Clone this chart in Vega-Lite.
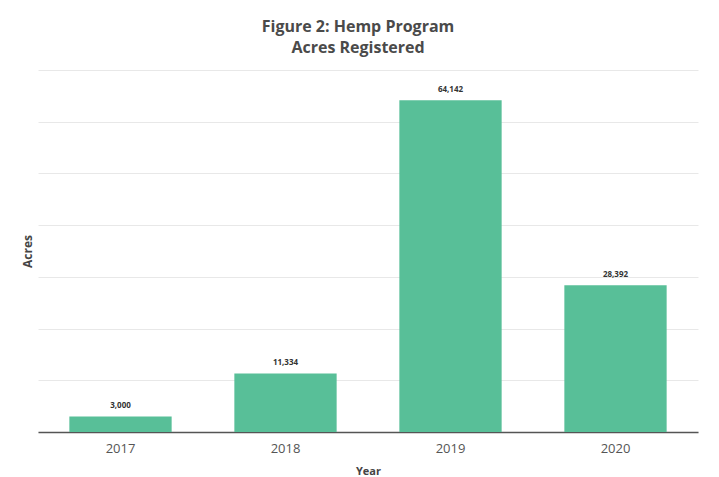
{
  "$schema": "https://vega.github.io/schema/vega-lite/v6.json",
  "autosize": {"type": "none"},
  "width": 660,
  "height": 362,
  "padding": {"left": 38, "top": 70, "right": 21, "bottom": 45},
  "background": "#ffffff",
  "title": {
    "text": ["Figure 2:  Hemp Program", "Acres Registered"],
    "font": "Open Sans",
    "fontSize": 16,
    "fontWeight": "bold",
    "color": "#4a4a4a",
    "anchor": "middle",
    "dx": -10,
    "offset": 14,
    "lineHeight": 21
  },
  "data": {
    "values": [
      {"Year": "2017", "Acres": 3000, "Label": "3,000"},
      {"Year": "2018", "Acres": 11334, "Label": "11,334"},
      {"Year": "2019", "Acres": 64142, "Label": "64,142"},
      {"Year": "2020", "Acres": 28392, "Label": "28,392"}
    ]
  },
  "encoding": {
    "x": {
      "field": "Year",
      "type": "nominal",
      "scale": {"paddingInner": 0.38, "paddingOuter": 0.19},
      "axis": {
        "title": "Year",
        "labelAngle": 0,
        "labelFont": "Open Sans",
        "labelFontSize": 13,
        "labelColor": "#555555",
        "labelPadding": 10,
        "ticks": false,
        "domainColor": "#555555",
        "domainWidth": 1.5,
        "titleFont": "Open Sans",
        "titleFontSize": 11,
        "titleFontWeight": "bold",
        "titleColor": "#444444",
        "titlePadding": 10
      }
    },
    "y": {
      "field": "Acres",
      "type": "quantitative",
      "scale": {"domain": [0, 70000], "nice": false},
      "axis": {
        "title": "Acres",
        "labels": false,
        "labelOverlap": false,
        "ticks": false,
        "domain": false,
        "values": [0, 10000, 20000, 30000, 40000, 50000, 60000, 70000],
        "gridColor": "#e8e8e8",
        "gridWidth": 1,
        "titleFont": "Open Sans",
        "titleFontSize": 12,
        "titleFontWeight": "bold",
        "titleColor": "#444444",
        "titlePadding": 4
      }
    }
  },
  "layer": [
    {"mark": {"type": "bar", "color": "#58bf98"}},
    {
      "mark": {"type": "text", "dy": -10, "font": "Open Sans", "fontSize": 8, "fontWeight": "bold", "color": "#333333"},
      "encoding": {"text": {"field": "Label"}}
    }
  ],
  "config": {"view": {"stroke": null}}
}
